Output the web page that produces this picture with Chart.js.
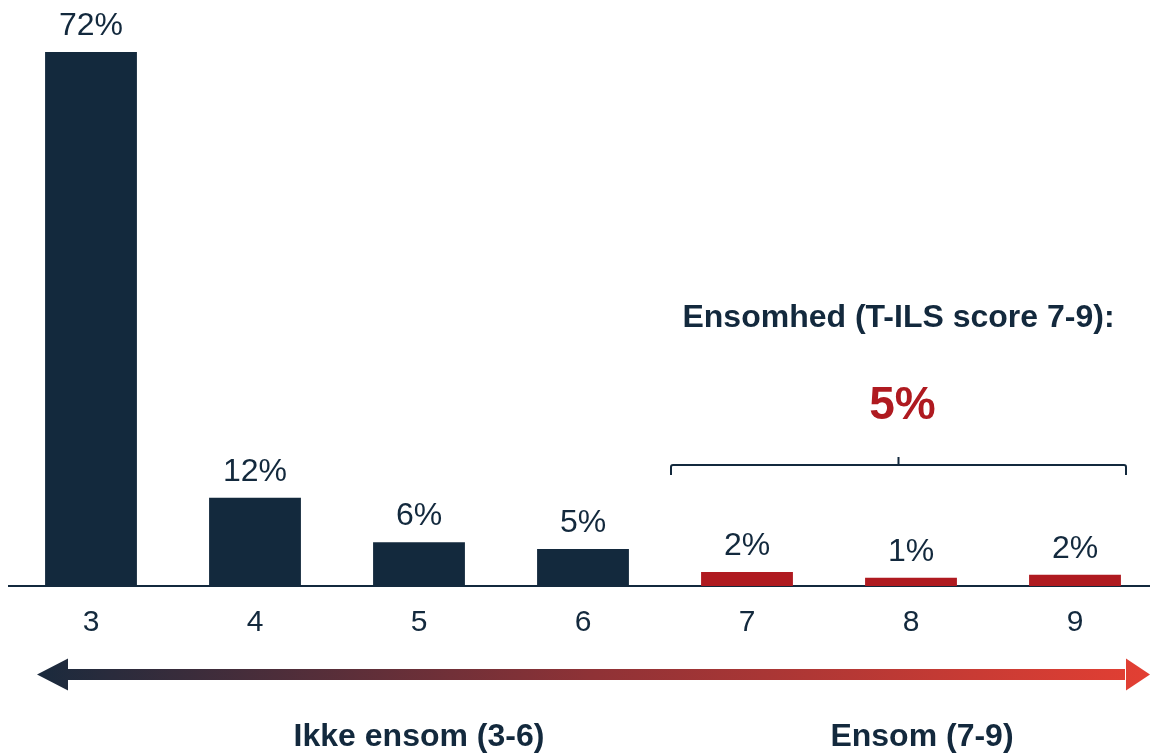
<!DOCTYPE html>
<html>
<head>
<meta charset="utf-8">
<script src="https://cdn.jsdelivr.net/npm/chart.js@4"></script>
<style>
  html, body { margin: 0; padding: 0; background: #fff; overflow: hidden; }
  #wrap { position: absolute; left: 0; top: 0; width: 1160px; height: 754px; }
</style>
</head>
<body>
<div id="wrap"><canvas id="scoreChart" width="1160" height="754"></canvas></div>
<script>
// T-ILS score distribution
var scores = ['3', '4', '5', '6', '7', '8', '9'];
var shares = [72, 11.9, 5.9, 5.0, 1.9, 1.1, 1.5];          // bar heights (%)
var shareLabels = ['72%', '12%', '6%', '5%', '2%', '1%', '2%'];
var lonelyFrom = 7;                                          // scores 7-9 = lonely
var lonelyTotal = '5%';
var lonelyHeading = 'Ensomhed (T-ILS score 7-9):';
var leftLabel = 'Ikke ensom (3-6)';
var rightLabel = 'Ensom (7-9)';

var NAVY = '#13293d';
var RED = '#af1a20';
var FONT = '"Liberation Sans", Arial, sans-serif';

var barColors = scores.map(function (s) {
  return Number(s) >= lonelyFrom ? RED : NAVY;
});

// labels, bracket, arrow and group captions
var extras = {
  id: 'extras',
  afterDraw: function (chart) {
    var ctx = chart.ctx;
    var x = chart.scales.x;
    var meta = chart.getDatasetMeta(0);
    ctx.save();

    // value labels over bars
    ctx.fillStyle = NAVY;
    ctx.font = '32px ' + FONT;
    ctx.textAlign = 'center';
    ctx.textBaseline = 'alphabetic';
    meta.data.forEach(function (bar, i) {
      ctx.fillText(shareLabels[i], bar.x, bar.y - 17);
    });

    // bracket over lonely group
    var first = meta.data[scores.indexOf(String(lonelyFrom))];
    var last = meta.data[meta.data.length - 1];
    var bl = first.x - 76, br = last.x + 51, by = 465, mid = (bl + br) / 2;
    ctx.strokeStyle = NAVY;
    ctx.lineWidth = 2;
    ctx.lineJoin = 'round';
    ctx.beginPath();
    ctx.moveTo(bl, by + 10);
    ctx.lineTo(bl, by + 2);
    ctx.quadraticCurveTo(bl, by, bl + 2, by);
    ctx.lineTo(br - 2, by);
    ctx.quadraticCurveTo(br, by, br, by + 2);
    ctx.lineTo(br, by + 10);
    ctx.moveTo(mid, by);
    ctx.lineTo(mid, by - 8);
    ctx.stroke();

    ctx.fillStyle = NAVY;
    ctx.font = 'bold 32px ' + FONT;
    ctx.textBaseline = 'middle';
    ctx.fillText(lonelyHeading, mid, 318);
    ctx.fillStyle = RED;
    ctx.font = 'bold 46px ' + FONT;
    ctx.fillText(lonelyTotal, mid + 4, 406);

    // gradient double arrow
    var ax0 = 37, ax1 = 1150, ay = 674.5;
    var g = ctx.createLinearGradient(ax0, 0, ax1, 0);
    g.addColorStop(0, '#1a2a3d');
    g.addColorStop(0.5, '#8f3236');
    g.addColorStop(1, '#e33f33');
    ctx.fillStyle = g;
    ctx.fillRect(ax0 + 25, ay - 5.5, ax1 - ax0 - 50, 11);
    ctx.beginPath();
    ctx.moveTo(ax0, ay);
    ctx.lineTo(ax0 + 31, ay - 16);
    ctx.lineTo(ax0 + 31, ay + 16);
    ctx.closePath();
    ctx.fill();
    ctx.beginPath();
    ctx.moveTo(ax1, ay);
    ctx.lineTo(ax1 - 24, ay - 16);
    ctx.lineTo(ax1 - 24, ay + 16);
    ctx.closePath();
    ctx.fill();

    // group captions
    ctx.fillStyle = NAVY;
    ctx.font = 'bold 32px ' + FONT;
    ctx.fillText(leftLabel, x.getPixelForValue(2), 737);
    ctx.fillText(rightLabel, 922, 737);

    ctx.restore();
  }
};

var ctx = document.getElementById('scoreChart').getContext('2d');
var chart = new Chart(ctx, {
  type: 'bar',
  data: {
    labels: scores,
    datasets: [{
      data: shares,
      backgroundColor: barColors,
      categoryPercentage: 1,
      barPercentage: 0.56
    }]
  },
  options: {
    responsive: false,
    animation: false,
    layout: { padding: { left: 9, right: 3, top: 0, bottom: 0 } },
    plugins: {
      legend: { display: false },
      tooltip: { enabled: false }
    },
    scales: {
      x: {
        grid: { display: false, drawTicks: false },
        border: { display: true, color: NAVY, width: 2 },
        ticks: { color: NAVY, padding: 19, font: { family: FONT, size: 30 } },
        afterFit: function (s) { s.height = 168; }
      },
      y: {
        display: false,
        min: 0,
        max: 79
      }
    }
  },
  plugins: [extras]
});
</script>
</body>
</html>
